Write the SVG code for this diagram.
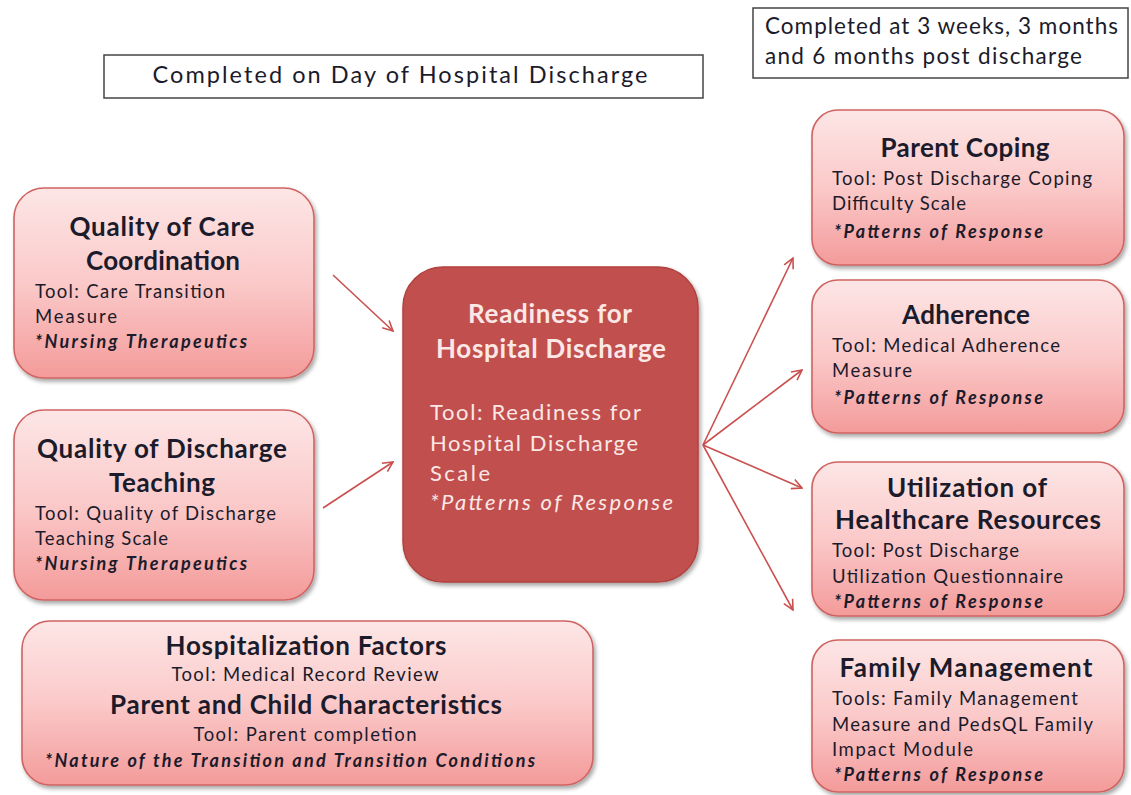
<svg xmlns="http://www.w3.org/2000/svg" width="1131" height="795" viewBox="0 0 1131 795">
  <defs>
    <linearGradient id="pinkFill" x1="0" y1="0" x2="0" y2="1">
      <stop offset="0" stop-color="#fde6e6"/>
      <stop offset="0.5" stop-color="#fbc9c9"/>
      <stop offset="1" stop-color="#f39b9a"/>
    </linearGradient>
    <filter id="shadow" x="-10%" y="-10%" width="125%" height="130%">
      <feGaussianBlur in="SourceAlpha" stdDeviation="2"/>
      <feOffset dx="2" dy="3" result="b"/>
      <feComponentTransfer><feFuncA type="linear" slope="0.35"/></feComponentTransfer>
      <feMerge><feMergeNode/><feMergeNode in="SourceGraphic"/></feMerge>
    </filter>
    <marker id="arrow" viewBox="0 0 12 12" refX="11" refY="6" markerWidth="12" markerHeight="12" markerUnits="userSpaceOnUse" orient="auto">
      <path d="M1,1 L11,6 L1,11" fill="none" stroke="#c9504e" stroke-width="1.6"/>
    </marker>
  </defs>
  <style>
    text { font-family: Lato, "Liberation Sans", sans-serif; fill: #1b1b2b; }
    .box { fill: url(#pinkFill); stroke: #cf6462; stroke-width: 1.6; filter: url(#shadow); }
    .core { fill: #c0504d; stroke: #b0423f; stroke-width: 1.5; filter: url(#shadow); }
    .note { fill: #ffffff; stroke: #444444; stroke-width: 1.5; }
    .title { font-weight: bold; font-size: 26px; text-anchor: middle; }
    .tool { font-size: 18.5px; }
    .em { font-size: 18px; font-style: italic; font-weight: bold; }
    .mid { text-anchor: middle; }
    #readiness text { fill: #fbe8e6; }
    .body { font-size: 22px; }
    .link { stroke: #c9504e; stroke-width: 1.6; fill: none; marker-end: url(#arrow); }
  </style>

  <!-- timing notes -->
  <g id="note-day">
    <rect class="note" x="104" y="55" width="599" height="43"/>
    <text x="400" y="83" style="font-size:23.5px" text-anchor="middle" textLength="495">Completed on Day of Hospital Discharge</text>
  </g>
  <g id="note-post">
    <rect class="note" x="753" y="8" width="375" height="70"/>
    <text x="765" y="34" style="font-size:22.5px" textLength="353">Completed at 3 weeks, 3 months</text>
    <text x="765" y="64" style="font-size:22.5px" textLength="317">and 6 months post discharge</text>
  </g>

  <!-- connectors -->
  <g id="connectors">
    <line class="link" x1="333" y1="275" x2="393" y2="331"/>
    <line class="link" x1="323" y1="508" x2="393" y2="462"/>
    <line class="link" x1="703" y1="445" x2="793" y2="258"/>
    <line class="link" x1="703" y1="445" x2="802" y2="370"/>
    <line class="link" x1="703" y1="445" x2="802" y2="488"/>
    <line class="link" x1="703" y1="445" x2="793" y2="610"/>
  </g>

  <!-- inputs -->
  <g id="care-coordination">
    <rect class="box" x="14" y="188" width="300" height="190" rx="30"/>
    <text class="title" x="162" y="236" textLength="185">Quality of Care</text>
    <text class="title" x="163" y="270" textLength="154">Coordination</text>
    <text class="tool" x="35" y="298" textLength="190">Tool: Care Transition</text>
    <text class="tool" x="35" y="323" textLength="82">Measure</text>
    <text class="em" x="35" y="348" textLength="212">*Nursing Therapeutics</text>
  </g>
  <g id="discharge-teaching">
    <rect class="box" x="14" y="410" width="300" height="190" rx="30"/>
    <text class="title" x="162" y="458" textLength="250">Quality of Discharge</text>
    <text class="title" x="162" y="492" textLength="106">Teaching</text>
    <text class="tool" x="35" y="520" textLength="241">Tool: Quality of Discharge</text>
    <text class="tool" x="35" y="545" textLength="133">Teaching Scale</text>
    <text class="em" x="35" y="570" textLength="212">*Nursing Therapeutics</text>
  </g>
  <g id="hospitalization-factors">
    <rect class="box" x="22" y="621" width="571" height="164" rx="28"/>
    <text class="title" x="306" y="655" textLength="281">Hospitalization Factors</text>
    <text class="tool mid" x="305" y="681" textLength="267">Tool: Medical Record Review</text>
    <text class="title" x="306" y="714" textLength="392">Parent and Child Characteristics</text>
    <text class="tool mid" x="305" y="741" textLength="223">Tool: Parent completion</text>
    <text class="em" x="45" y="767" textLength="490">*Nature of the Transition and Transition Conditions</text>
  </g>

  <!-- core concept -->
  <g id="readiness">
    <rect class="core" x="403" y="267" width="295" height="315" rx="40"/>
    <text class="title" x="550" y="323" textLength="164">Readiness for</text>
    <text class="title" x="551" y="358" textLength="230">Hospital Discharge</text>
    <text class="body" x="430" y="420" textLength="211">Tool: Readiness for</text>
    <text class="body" x="430" y="451" textLength="208">Hospital Discharge</text>
    <text class="body" x="430" y="481" textLength="60">Scale</text>
    <text class="body" x="430" y="510" style="font-style:italic" textLength="243">*Patterns of Response</text>
  </g>

  <!-- outcomes -->
  <g id="parent-coping">
    <rect class="box" x="812" y="110" width="312" height="155" rx="26"/>
    <text class="title" x="965" y="157" textLength="169">Parent Coping</text>
    <text class="tool" x="832" y="185" textLength="260">Tool: Post Discharge Coping</text>
    <text class="tool" x="832" y="210" textLength="134">Difficulty Scale</text>
    <text class="em" x="834" y="238" textLength="209">*Patterns of Response</text>
  </g>
  <g id="adherence">
    <rect class="box" x="812" y="280" width="312" height="153" rx="26"/>
    <text class="title" x="966" y="324" textLength="128">Adherence</text>
    <text class="tool" x="832" y="352" textLength="228">Tool: Medical Adherence</text>
    <text class="tool" x="832" y="377" textLength="80">Measure</text>
    <text class="em" x="834" y="404" textLength="209">*Patterns of Response</text>
  </g>
  <g id="utilization">
    <rect class="box" x="812" y="462" width="312" height="154" rx="26"/>
    <text class="title" x="967" y="497" textLength="160">Utilization of</text>
    <text class="title" x="968" y="529" textLength="266">Healthcare Resources</text>
    <text class="tool" x="832" y="557" textLength="187">Tool: Post Discharge</text>
    <text class="tool" x="832" y="583" textLength="231">Utilization Questionnaire</text>
    <text class="em" x="834" y="608" textLength="209">*Patterns of Response</text>
  </g>
  <g id="family-management">
    <rect class="box" x="812" y="640" width="312" height="152" rx="26"/>
    <text class="title" x="966" y="677" textLength="253">Family Management</text>
    <text class="tool" x="832" y="705" textLength="246">Tools: Family Management</text>
    <text class="tool" x="832" y="731" textLength="261">Measure and PedsQL Family</text>
    <text class="tool" x="832" y="756" textLength="141">Impact Module</text>
    <text class="em" x="834" y="781" textLength="209">*Patterns of Response</text>
  </g>
</svg>
